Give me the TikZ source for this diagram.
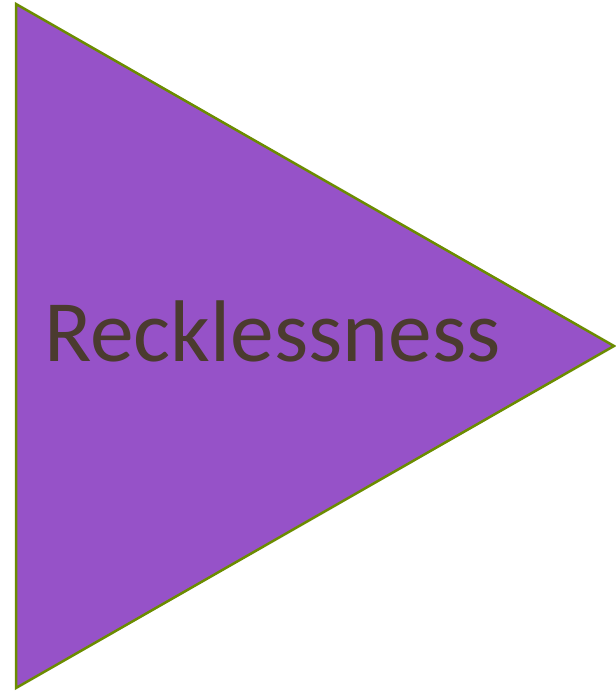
\documentclass[tikz,border=0pt]{standalone}
\usepackage{fontspec}
\setmainfont{Carlito}
\definecolor{tri}{HTML}{9652C8}
\definecolor{edge}{HTML}{6B8C00}
\definecolor{txt}{HTML}{4B3B2F}
\tikzset{tristyle/.style={fill=tri,draw=edge,line width=2.5pt,line join=miter},
  lbl/.style={text=txt,font=\fontsize{87.5}{100}\selectfont,inner sep=0pt,anchor=base west}}
\begin{document}
\begin{tikzpicture}[x=1pt,y=1pt]
\useasboundingbox (0,0) rectangle (616,691);
\coordinate (a) at (16,687);
\coordinate (b) at (16,3);
\coordinate (c) at (614,345);
\draw[tristyle] (a) -- (c) -- (b) -- cycle;
\node[lbl] (t) at (44,329) {Recklessness};
\end{tikzpicture}
\end{document}
